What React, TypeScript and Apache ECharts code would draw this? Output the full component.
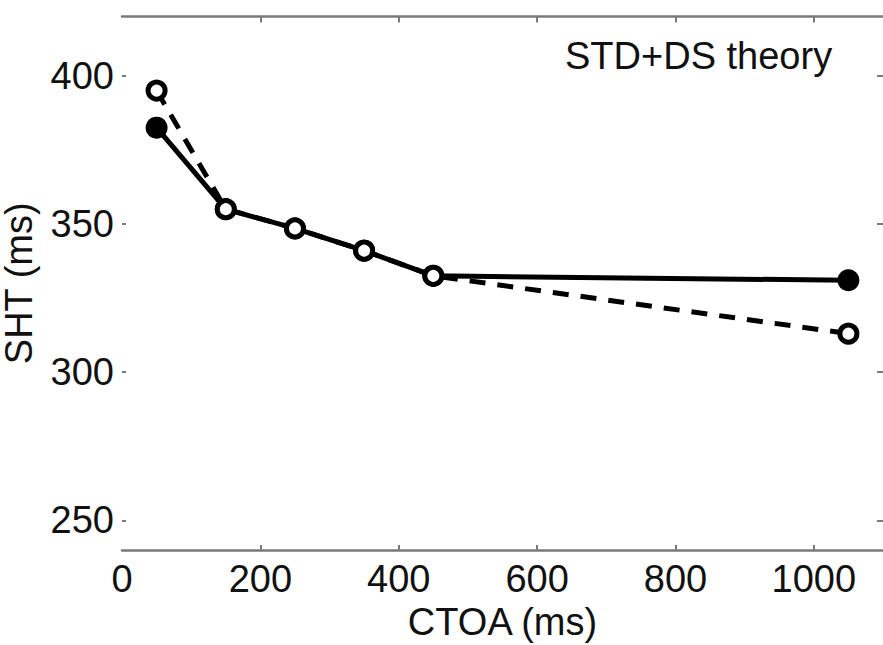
import React, { useEffect, useRef } from "react";
import * as echarts from "echarts";

const ctoaMs = [50, 150, 250, 350, 450, 1050];
const shtSolid = [382.5, 355, 348.5, 341, 332.5, 331];
const shtDashed = [395, 355, 348.5, 341, 332.5, 313];
const xTickValues = [0, 200, 400, 600, 800, 1000];
const yTickValues = [250, 300, 350, 400];
const xAxisTitle = "CTOA (ms)";
const yAxisTitle = "SHT (ms)";
const panelLabel = "STD+DS theory";

const FONT = "'Liberation Sans', Arial, sans-serif";
const AX = "#7a7a7a";
const TXT = "#111";

export default function App() {
  const ref = useRef<HTMLDivElement>(null);
  useEffect(() => {
    if (!ref.current) return;
    const chart = echarts.init(ref.current, undefined, { renderer: "svg" });
    const lbl = { fontSize: 38, fontFamily: FONT, color: TXT };
    const fmt = (v: number) => String(v);
    chart.setOption({
      animation: false,
      backgroundColor: "#fff",
      grid: { left: 122, right: 17, top: 16.5, bottom: 95, containLabel: false, outerBoundsMode: "none" },
      xAxis: [
        {
          type: "value",
          position: "bottom",
          min: 0,
          max: 1100,
          axisLine: { show: true, onZero: false, lineStyle: { color: AX, width: 2.5 } },
          axisTick: { show: true, inside: true, length: 5, customValues: xTickValues.slice(1), lineStyle: { color: AX, width: 2 } },
          axisLabel: { customValues: xTickValues, margin: 10, formatter: fmt, ...lbl },
          splitLine: { show: false },
          name: xAxisTitle,
          nameLocation: "middle",
          nameGap: 52,
          nameTextStyle: { ...lbl },
        },
        {
          type: "value",
          position: "top",
          min: 0,
          max: 1100,
          axisLine: { show: true, onZero: false, lineStyle: { color: AX, width: 2.5 } },
          axisTick: { show: true, inside: true, length: 6, customValues: xTickValues.slice(1), lineStyle: { color: AX, width: 2 } },
          axisLabel: { show: false },
          splitLine: { show: false },
        },
      ],
      yAxis: [
        {
          type: "value",
          position: "left",
          min: 240,
          max: 420,
          axisLine: { show: false, onZero: false },
          axisTick: { show: true, inside: true, length: 4, customValues: yTickValues, lineStyle: { color: AX, width: 2 } },
          axisLabel: { customValues: yTickValues, margin: 8, formatter: fmt, ...lbl },
          splitLine: { show: false },
          name: yAxisTitle,
          nameLocation: "middle",
          nameGap: 84,
          nameTextStyle: { ...lbl },
        },
        {
          type: "value",
          position: "right",
          min: 240,
          max: 420,
          axisLine: { show: false, onZero: false },
          axisTick: { show: true, inside: true, length: 6, customValues: yTickValues, lineStyle: { color: AX, width: 2 } },
          axisLabel: { show: false },
          splitLine: { show: false },
        },
      ],
      graphic: [
        {
          type: "text",
          x: 565,
          y: 56,
          style: {
            text: panelLabel,
            fontSize: 38,
            fontFamily: FONT,
            fill: TXT,
            align: "left",
            verticalAlign: "middle",
            textAlign: "left",
            textVerticalAlign: "middle",
          },
        },
      ],
      series: [
        {
          type: "line",
          xAxisIndex: 0,
          yAxisIndex: 0,
          data: ctoaMs.map((x, i) => [x, shtSolid[i]]),
          lineStyle: { color: "#000", width: 5 },
          symbol: "circle",
          symbolSize: 22,
          itemStyle: { color: "#000" },
          z: 2,
        },
        {
          type: "line",
          xAxisIndex: 0,
          yAxisIndex: 0,
          data: ctoaMs.map((x, i) => [x, shtDashed[i]]),
          lineStyle: { color: "#000", width: 5, type: [16, 12] },
          symbol: "circle",
          symbolSize: 17,
          itemStyle: { color: "#fff", borderColor: "#000", borderWidth: 5 },
          z: 3,
        },
      ],
    });
    return () => chart.dispose();
  }, []);
  return (
    <div style={{ position: "fixed", left: 0, top: 0, width: 883, height: 645, overflow: "hidden", background: "#fff" }}>
      <div ref={ref} style={{ width: 900, height: 645 }} />
    </div>
  );
}
